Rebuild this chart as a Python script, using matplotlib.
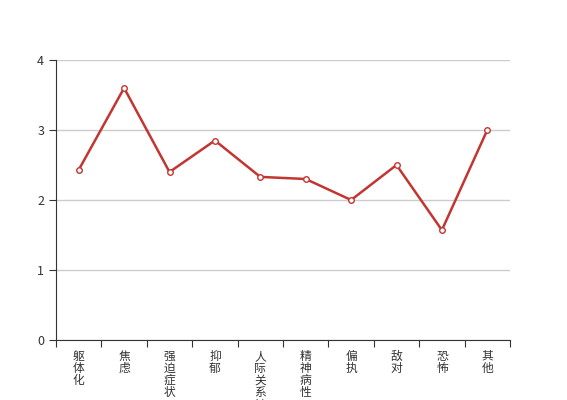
import matplotlib
matplotlib.use("Agg")
import matplotlib.pyplot as plt
import numpy as np

plt.rcParams['font.family'] = ['Noto Sans CJK SC', 'DejaVu Sans']

categories = ["躯体化", "焦虑", "强迫症状", "抑郁", "人际关系敏感", "精神病性", "偏执", "敌对", "恐怖", "其他"]
values = [2.43, 3.6, 2.4, 2.85, 2.33, 2.3, 2.0, 2.5, 1.57, 3.0]
yticks = [0, 1, 2, 3, 4]

fig = plt.figure(figsize=(5.67, 4.0), dpi=100)
ax = fig.add_axes([56/567, 60/400, (510-56)/567, 280/400])

x = np.arange(len(categories))
ax.plot(x, values, color='#c23531', lw=1.8, marker='o', ms=4,
        markerfacecolor='white', markeredgecolor='#c23531', markeredgewidth=1, zorder=3)

ax.set_xlim(-0.5, len(categories) - 0.5)
ax.set_ylim(0, 4)
ax.set_yticks(yticks)
ax.yaxis.grid(True, color='#cccccc', lw=1)
ax.set_axisbelow(True)

ax.set_xticks(np.arange(-0.5, len(categories)), minor=False)
ax.set_xticklabels([])
ax.set_xticks(x, minor=True)
ax.set_xticklabels(["\n".join(c) for c in categories], minor=True,
                   fontsize=8.5, color='#333333', linespacing=0.92, va='top')
ax.tick_params(axis='x', which='minor', length=0, pad=7)
ax.tick_params(axis='x', which='major', length=5, direction='out', color='#333333')
ax.tick_params(axis='y', length=5, direction='out', color='#333333', labelsize=9, labelcolor='#333333')

for s in ['top', 'right']:
    ax.spines[s].set_visible(False)
for s in ['left', 'bottom']:
    ax.spines[s].set_color('#333333')

fig.savefig('out.png', dpi=100)
